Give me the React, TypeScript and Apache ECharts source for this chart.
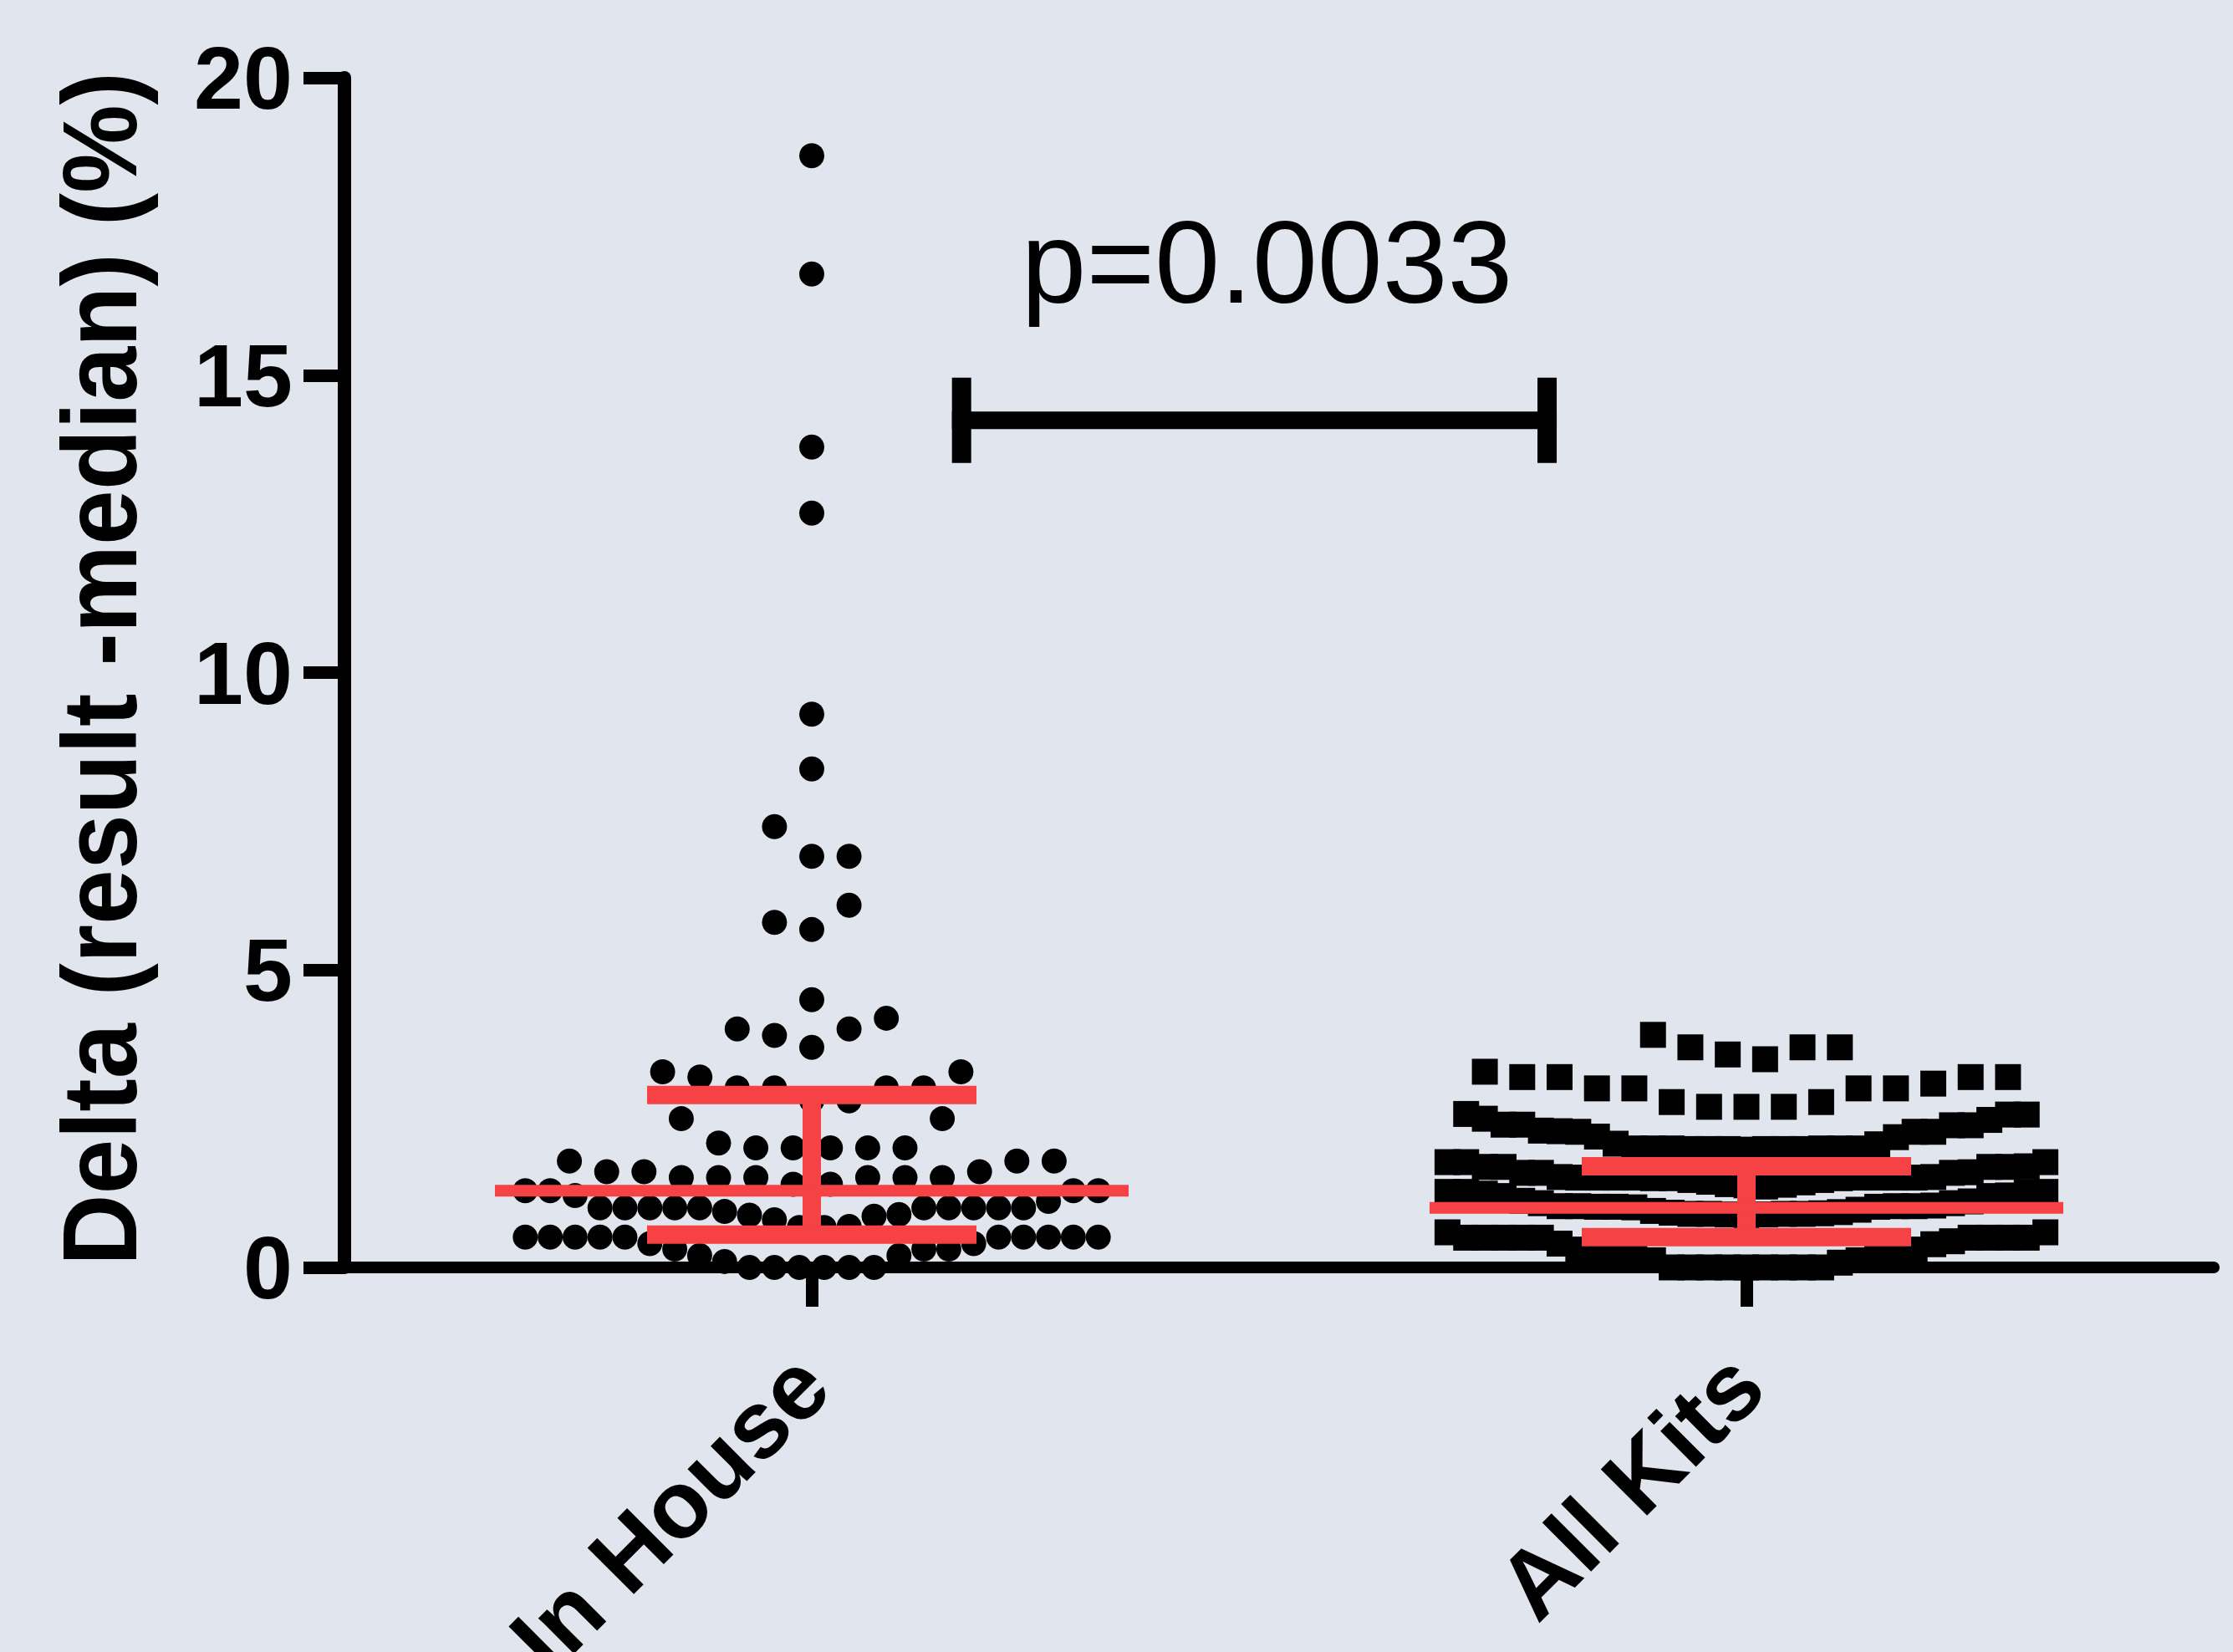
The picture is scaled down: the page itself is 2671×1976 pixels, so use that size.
import React, { useEffect, useRef } from "react";
import * as echarts from "echarts";

// ---------- data ----------
const categories = ["In House", "All Kits"];
const yAxisTitle = "Delta (result -median) (%)";
const yMin = 0;
const yMax = 20;
const yStep = 5;

// In House: one array per row of the dot plot, values left to right
const inHouseRows: number[][] = [
  [0.51, 0.51, 0.51, 0.51, 0.51, 0.4, 0.31, 0.2, 0.1, 0.0, 0.0, 0.0, 0.0, 0.0, 0.0, 0.2, 0.31, 0.31, 0.4, 0.51, 0.51, 0.51, 0.51, 0.51],
  [1.29, 1.29, 1.21, 1.0, 1.0, 1.0, 1.0, 1.0, 0.94, 0.88, 0.8, 0.67, 0.67, 0.69, 0.86, 0.89, 1.0, 1.0, 1.0, 1.0, 1.0, 1.11, 1.29, 1.29],
  [1.79, 1.61, 1.61, 1.51, 1.51, 1.51, 1.4, 1.4, 1.51, 1.51, 1.51, 1.61, 1.79, 1.79],
  [2.5, 2.09, 2.01, 2.01, 2.01, 2.01, 2.01, 2.5],
  [3.29, 3.2, 3.02, 3.02, 2.8, 2.8, 3.02, 3.02, 3.29],
  [4.01, 3.9, 3.7, 4.01, 4.19],
  [4.5],
  [5.8, 5.68, 6.09],
  [7.41, 6.91, 6.91],
  [8.38],
  [9.3],
  [12.68],
  [13.79],
  [16.7],
  [18.69],
];

// All Kits: one array per row, values left to right
const allKitsRows: number[][] = [
  [0.59, 0.5, 0.5, 0.5, 0.5, 0.5, 0.4, 0.3, 0.25, 0.2, 0.15, 0.12, 0.0, 0.0, 0.0, 0.0, 0.0, 0.0, 0.0, 0.0, 0.0, 0.08, 0.12, 0.15, 0.22, 0.3, 0.39, 0.44, 0.5, 0.5, 0.5, 0.5, 0.59],
  [1.27, 1.27, 1.24, 1.2, 1.12, 1.08, 1.03, 1.03, 1.02, 1.02, 1.01, 0.95, 0.92, 0.9, 0.9, 0.89, 0.88, 0.89, 0.9, 0.9, 0.91, 0.93, 0.97, 1.02, 1.03, 1.03, 1.04, 1.08, 1.11, 1.2, 1.21, 1.27, 1.27],
  [1.77, 1.77, 1.69, 1.69, 1.59, 1.59, 1.52, 1.51, 1.51, 1.51, 1.51, 1.5, 1.5, 1.47, 1.44, 1.4, 1.38, 1.36, 1.39, 1.43, 1.47, 1.5, 1.51, 1.51, 1.51, 1.51, 1.52, 1.59, 1.6, 1.69, 1.69, 1.7, 1.77],
  [2.58, 2.5, 2.4, 2.4, 2.3, 2.29, 2.28, 2.2, 2.08, 2.0, 2.0, 2.0, 1.99, 1.99, 1.99, 1.98, 1.99, 1.99, 1.99, 2.0, 2.0, 2.0, 2.07, 2.19, 2.28, 2.28, 2.39, 2.39, 2.48, 2.57, 2.57],
  [3.29, 3.2, 3.2, 3.01, 3.01, 2.78, 2.7, 2.7, 2.7, 2.78, 3.01, 3.01, 3.09, 3.2, 3.2],
  [3.91, 3.7, 3.58, 3.5, 3.7, 3.7],
];

// summary lines (red): median with interquartile range
const medians = [1.29, 1.0];
const lowerQuartiles = [0.55, 0.51];
const upperQuartiles = [2.9, 1.7];

// significance annotation
const pValueLabel = "p=0.0033";
const bracketLevel = 14.24;

// ---------- styling ----------
const FONT = '"Liberation Sans", Arial, Helvetica, sans-serif';
const RED = "#f64145";
const BG = "#e0e5ee";
const W = 2671;
const H = 1976;

function layoutRows(rows: number[][], dense: number, sparse: number) {
  const pts: number[][] = [];
  rows.forEach((row) => {
    const sp = row.length > 20 ? dense : sparse;
    row.forEach((v, i) => pts.push([v, (i - (row.length - 1) / 2) * sp]));
  });
  return pts;
}

export default function App() {
  const ref = useRef<HTMLDivElement>(null);

  useEffect(() => {
    const chart = echarts.init(ref.current as HTMLDivElement, null, { renderer: "svg" });

    const inHousePts = layoutRows(inHouseRows, 29.8, 44.6);
    const allKitsPts = layoutRows(allKitsRows, 22.35, 44.7);

    const dotSeries = (catIdx: number, pts: number[][], shape: "circle" | "square") => ({
      type: "custom",
      clip: false,
      z: 3,
      data: pts.map(([v, dx]) => [catIdx, v, dx]),
      renderItem: (params: any, api: any) => {
        const v = api.value(1);
        const dx = api.value(2);
        const p = api.coord([catIdx, v]);
        if (shape === "circle") {
          return { type: "circle", shape: { cx: p[0] + dx, cy: p[1], r: 15 }, style: { fill: "#000" } };
        }
        return { type: "rect", shape: { x: p[0] + dx - 15.5, y: p[1] - 15.5, width: 31, height: 31 }, style: { fill: "#000" } };
      },
    });

    const option: any = {
      animation: false,
      backgroundColor: BG,
      grid: {
        left: 412,
        right: 23,
        top: 93,
        bottom: H - 1516,
        containLabel: false,
        outerBoundsMode: "none",
      },
      xAxis: {
        type: "category",
        data: categories,
        boundaryGap: true,
        axisLine: { show: true, lineStyle: { color: "#000", width: 14 } },
        axisTick: { show: true, alignWithLabel: true, length: 47, lineStyle: { color: "#000", width: 15 } },
        axisLabel: {
          interval: 0,
          rotate: 45,
          margin: 122,
          fontSize: 114,
          fontWeight: "bold",
          fontFamily: FONT,
          color: "#000",
        },
        splitLine: { show: false },
      },
      yAxis: {
        type: "value",
        min: yMin,
        max: yMax,
        interval: yStep,
        axisLine: { show: true, lineStyle: { color: "#000", width: 16 } },
        axisTick: { show: true, length: 49, lineStyle: { color: "#000", width: 15 } },
        axisLabel: { fontSize: 106, fontWeight: "bold", fontFamily: FONT, color: "#000", margin: 62 },
        splitLine: { show: false },
      },
      graphic: [
        {
          type: "text",
          x: 119,
          y: 800,
          rotation: Math.PI / 2,
          scaleX: 0.94,
          style: {
            text: yAxisTitle,
            fontSize: 126,
            fontWeight: "bold",
            fontFamily: FONT,
            fill: "#000",
            align: "center",
            verticalAlign: "middle",
          },
        },
      ],
      series: [
        dotSeries(0, inHousePts, "circle"),
        dotSeries(1, allKitsPts, "square"),
        {
          type: "custom",
          clip: false,
          z: 5,
          data: medians.map((m, i) => [i, m]),
          renderItem: (params: any, api: any) => {
            const i = params.dataIndex;
            const c = api.coord([i, medians[i]]);
            const lo = api.coord([i, lowerQuartiles[i]]);
            const hi = api.coord([i, upperQuartiles[i]]);
            const st = { fill: RED };
            return {
              type: "group",
              children: [
                { type: "rect", shape: { x: c[0] - 11, y: hi[1], width: 22, height: lo[1] - hi[1] }, style: st },
                { type: "rect", shape: { x: c[0] - 197, y: hi[1] - 11, width: 394, height: 22 }, style: st },
                { type: "rect", shape: { x: c[0] - 197, y: lo[1] - 11, width: 394, height: 22 }, style: st },
                { type: "rect", shape: { x: c[0] - 379, y: c[1] - 7, width: 758, height: 14 }, style: st },
              ],
            };
          },
        },
        {
          type: "custom",
          clip: false,
          z: 5,
          data: [[0, bracketLevel]],
          renderItem: (params: any, api: any) => {
            const a = api.coord([0, bracketLevel]);
            const b = api.coord([1, bracketLevel]);
            const span = b[0] - a[0];
            const x1 = a[0] + 0.15 * span;
            const x2 = a[0] + 0.797 * span;
            const y = a[1];
            const st = { fill: "#000" };
            return {
              type: "group",
              children: [
                { type: "rect", shape: { x: x1, y: y - 10.5, width: x2 - x1, height: 21 }, style: st },
                { type: "rect", shape: { x: x1, y: y - 51, width: 23, height: 102 }, style: st },
                { type: "rect", shape: { x: x2 - 23, y: y - 51, width: 23, height: 102 }, style: st },
                {
                  type: "text",
                  x: a[0] + 0.487 * span,
                  y: y - 189,
                  style: {
                    text: pValueLabel,
                    fontSize: 140,
                    fontFamily: FONT,
                    fill: "#000",
                    align: "center",
                    verticalAlign: "middle",
                  },
                },
              ],
            };
          },
        },
      ],
    };

    chart.setOption(option);
    return () => chart.dispose();
  }, []);

  return (
    <div
      ref={ref}
      style={{ position: "fixed", left: 0, top: 0, width: W, height: H, background: BG }}
    />
  );
}
